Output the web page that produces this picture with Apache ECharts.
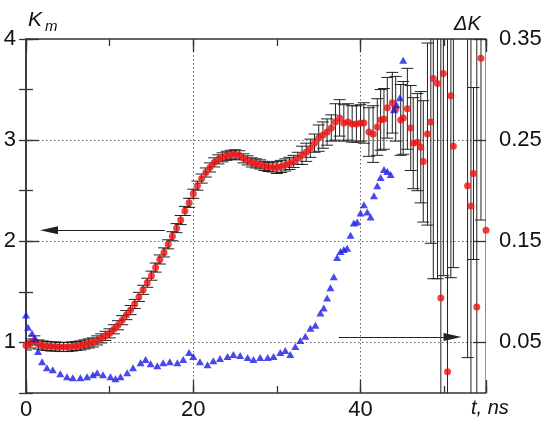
<!DOCTYPE html>
<html><head><meta charset="utf-8">
<script src="https://cdn.jsdelivr.net/npm/echarts@6/dist/echarts.min.js"></script>
<style>html,body{margin:0;padding:0;background:#fff;}#c{width:552px;height:421px;}</style>
</head><body><div id="c"></div>
<script>
// K_m (left axis) with error bars
const tK = [0,0.5,1,1.5,2,2.5,3,3.5,4,4.5,5,5.5,6,6.5,7,7.5,8,8.5,9,9.5,10,10.5,11,11.5,12,12.5,13,13.5,14,14.5,15,15.5,16,16.5,17,17.5,18,18.5,19,19.5,20,20.5,21,21.5,22,22.5,23,23.5,24,24.5,25,25.5,26,26.5,27,27.5,28,28.5,29,29.5,30,30.5,31,31.5,32,32.5,33,33.5,34,34.5,35,35.5,36,36.5,37,37.5,38,38.5,39,39.5,40,
  40.4,41.0,41.5,42.0,42.4,42.8,43.2,43.8,44.2,44.8,45.1,45.6,46.0,46.3,46.8,47.2,47.5,48.0,48.4,48.7,49.2,49.6,49.9,50.4,50.8,51.1,52.8,53.2,53.5,53.9,54.4,55.0];
const kValues = [0.97,0.99,1.02,0.98,0.97,0.965,0.96,0.96,0.955,0.955,0.955,0.96,0.965,0.97,0.98,0.99,1.0,1.02,1.04,1.065,1.09,1.13,1.17,1.22,1.27,1.32,1.38,1.45,1.52,1.59,1.66,1.74,1.82,1.89,1.97,2.05,2.13,2.21,2.30,2.38,2.47,2.55,2.62,2.68,2.73,2.78,2.81,2.83,2.845,2.855,2.86,2.85,2.82,2.80,2.78,2.77,2.76,2.745,2.735,2.73,2.73,2.74,2.755,2.77,2.79,2.82,2.85,2.88,2.92,2.97,3.02,3.05,3.08,3.12,3.18,3.22,3.17,3.18,3.16,3.16,3.17,
  3.17,3.08,3.06,3.13,3.20,3.21,3.32,3.37,3.31,3.20,3.22,3.31,3.12,2.97,2.98,2.93,2.79,3.06,3.18,3.61,3.56,1.44,3.66,0.71,3.44,2.94,2.55,2.35,2.67,1.35,3.81,2.11];
const kErr = [0.045,0.045,0.045,0.045,0.045,0.045,0.045,0.045,0.045,0.045,0.045,0.045,0.045,0.045,0.045,0.045,0.045,0.045,0.045,0.045,0.045,0.045,0.045,0.045,0.045,0.045,0.045,0.045,0.045,0.045,0.045,0.045,0.045,0.045,0.045,0.045,0.045,0.045,0.045,0.045,0.045,0.045,0.045,0.045,0.045,0.045,0.045,0.045,0.045,0.045,0.045,0.045,0.045,0.045,0.045,0.045,0.045,0.045,0.045,0.045,0.06,0.06,0.06,0.06,0.06,0.06,0.09,0.09,0.09,0.09,0.13,0.13,0.13,0.13,0.18,0.18,0.18,0.18,0.18,0.18,0.18,
  0.20,0.24,0.28,0.28,0.30,0.30,0.30,0.30,0.32,0.35,0.36,0.40,0.42,0.45,0.48,0.55,0.60,0.90,1.20,1.98,1.93,2.70,2.00,3.40,1.80,1.20,1.70,1.90,0.85,2.70,1.60,2.60];
// ΔK (right axis)
const tDK = [0,0.24,0.72,1.08,1.44,1.92,2.5,3.2,4.1,4.9,5.6,6.5,7.3,8.0,8.5,9.2,10.1,10.7,11.3,12.1,12.8,13.7,14.3,14.9,15.7,16.4,17.2,18.1,18.8,19.5,20.0,20.8,21.7,22.4,23.2,24.1,24.8,25.6,26.5,27.2,28.0,28.9,29.6,30.4,31.0,31.6,32.2,32.8,33.4,34.0,34.6,35.2,35.6,36.0,36.4,36.8,37.2,37.6,38.0,38.4,38.8,39.2,39.6,40.0,40.4,40.8,41.2,41.6,42.0,42.4,42.8,43.2,43.6,44.0,44.3,44.7,45.1];
const dkValues = [0.077,0.065,0.059,0.054,0.041,0.031,0.025,0.023,0.019,0.016,0.015,0.015,0.016,0.018,0.020,0.018,0.016,0.014,0.016,0.020,0.025,0.030,0.033,0.029,0.027,0.030,0.031,0.030,0.033,0.040,0.036,0.031,0.028,0.032,0.034,0.036,0.038,0.037,0.035,0.033,0.035,0.035,0.036,0.040,0.042,0.038,0.046,0.052,0.056,0.064,0.067,0.079,0.084,0.094,0.104,0.115,0.134,0.140,0.142,0.143,0.156,0.168,0.169,0.178,0.186,0.179,0.174,0.195,0.205,0.213,0.221,0.219,0.216,0.280,0.285,0.292,0.329];
// tick labels
const xLabelValues = [0, 20, 40];
const leftLabelValues = [1, 2, 3, 4];
const rightLabelValues = ['0.05', '0.15', '0.25', '0.35'];
const xName = 't, ns';
const leftName = ['K', 'm'];
const rightName = 'ΔK';
// annotation arrows (data coordinates)
const arrowLeft = [[16.6, 2.11], [2.75, 2.11]];
const arrowRight = [[37.4, 0.0554], [51.0, 0.0554]];

const FONT = 'Liberation Sans, Arial, sans-serif';
const AX = '#333';
const chart = echarts.init(document.getElementById('c'), null, {renderer: 'canvas'});
const gridPos = {left: 26, right: 66, top: 39, containLabel: false, outerBoundsMode: 'none'};
const tickStyle = {color: AX, width: 1.3};
const dotted = {show: true, showMinLine: false, showMaxLine: false, lineStyle: {type: [1.5, 2.5], color: '#666', width: 1}};

chart.setOption({
  animation: false,
  backgroundColor: '#fff',
  grid: [
    Object.assign({bottom: 28}, gridPos),
    Object.assign({height: 404}, gridPos)
  ],
  xAxis: [
    {gridIndex: 0, type: 'value', min: 0, max: 55, interval: 10, position: 'bottom',
     axisLine: {show: true, lineStyle: {color: AX, width: 1.5}},
     axisTick: {inside: true, length: 7, lineStyle: tickStyle},
     axisLabel: {fontSize: 22, color: '#111', fontFamily: FONT, margin: 6,
       formatter: v => xLabelValues.includes(v) ? String(v) : ''},
     splitLine: {show: false}},
    {gridIndex: 0, type: 'value', min: 0, max: 55, interval: 10, position: 'top',
     axisLine: {show: true, lineStyle: {color: AX, width: 1.5}},
     axisTick: {inside: true, length: 7, lineStyle: tickStyle},
     axisLabel: {show: false}, splitLine: {show: false}},
    {gridIndex: 0, type: 'value', min: 0, max: 55, interval: 20, position: 'bottom',
     axisLine: {show: false}, axisTick: {inside: true, length: 13, lineStyle: tickStyle},
     axisLabel: {show: false}, splitLine: dotted},
    {gridIndex: 0, type: 'value', min: 0, max: 55, interval: 20, position: 'top',
     axisLine: {show: false}, axisTick: {inside: true, length: 13, lineStyle: tickStyle},
     axisLabel: {show: false}, splitLine: {show: false}},
    {gridIndex: 1, type: 'value', min: 0, max: 55, show: false}
  ],
  yAxis: [
    {gridIndex: 0, type: 'value', min: 0.5, max: 4, interval: 0.5, position: 'left',
     axisLine: {show: true, lineStyle: {color: AX, width: 1.5}},
     axisTick: {inside: true, length: 7, lineStyle: tickStyle},
     axisLabel: {fontSize: 22, color: '#111', fontFamily: FONT, margin: 10,
       formatter: v => leftLabelValues.includes(v) ? String(v) : ''},
     splitLine: {show: false}},
    {gridIndex: 0, type: 'value', min: 0, max: 0.35, interval: 0.05, position: 'right',
     axisLine: {show: true, lineStyle: {color: AX, width: 1.5}},
     axisTick: {inside: true, length: 7, lineStyle: tickStyle},
     axisLabel: {fontSize: 22, color: '#111', fontFamily: FONT, margin: 13,
       formatter: v => { const s = (+v).toFixed(2); return rightLabelValues.includes(s) ? s : ''; }},
     splitLine: {show: false}},
    {gridIndex: 1, type: 'value', min: 0, max: 4, interval: 1, position: 'left',
     axisLine: {show: false}, axisTick: {inside: true, length: 13, lineStyle: tickStyle},
     axisLabel: {show: false}, splitLine: dotted},
    {gridIndex: 1, type: 'value', min: 0, max: 4, interval: 1, position: 'right',
     axisLine: {show: false}, axisTick: {inside: true, length: 13, lineStyle: tickStyle},
     axisLabel: {show: false}, splitLine: {show: false}}
  ],
  graphic: [
    {type: 'text', x: 28, y: 10, style: {text: leftName[0], font: 'italic 21px ' + FONT, fill: '#111', textVerticalAlign: 'top'}},
    {type: 'text', x: 45, y: 19, style: {text: leftName[1], font: 'italic 15px ' + FONT, fill: '#111', textVerticalAlign: 'top'}},
    {type: 'text', x: 454, y: 14, style: {text: rightName, font: 'italic 20px ' + FONT, fill: '#111', textVerticalAlign: 'top'}},
    {type: 'text', x: 471, y: 398, style: {text: xName, font: 'italic 20px ' + FONT, fill: '#111', textVerticalAlign: 'top'}}
  ],
  series: [
    {type: 'custom', xAxisIndex: 0, yAxisIndex: 0, clip: true, z: 2,
     encode: {x: 0, y: [1, 2]},
     data: tK.map((t, i) => [t, kValues[i] - kErr[i], kValues[i] + kErr[i]]),
     renderItem: function (params, api) {
       const t = api.value(0);
       const p0 = api.coord([t, api.value(1)]);
       const p1 = api.coord([t, api.value(2)]);
       const hw = 6;
       const st = {stroke: '#222', lineWidth: 1, fill: null};
       return {type: 'group', children: [
         {type: 'line', shape: {x1: p0[0], y1: p0[1], x2: p1[0], y2: p1[1]}, style: st},
         {type: 'line', shape: {x1: p0[0] - hw, y1: p0[1], x2: p0[0] + hw, y2: p0[1]}, style: st},
         {type: 'line', shape: {x1: p1[0] - hw, y1: p1[1], x2: p1[0] + hw, y2: p1[1]}, style: st}
       ]};
     }},
    {type: 'scatter', xAxisIndex: 0, yAxisIndex: 0, z: 3, symbol: 'circle', symbolSize: 7,
     itemStyle: {color: '#ee1111'},
     data: tK.map((t, i) => [t, kValues[i]]),
     markLine: {silent: true, symbol: ['none', 'triangle'], symbolSize: [8, 18],
       label: {show: false}, lineStyle: {color: '#222', width: 1, type: 'solid'},
       data: [[{coord: arrowLeft[0]}, {coord: arrowLeft[1]}]]}},
    {type: 'scatter', xAxisIndex: 0, yAxisIndex: 1, z: 4, symbol: 'triangle', symbolSize: [8, 7],
     itemStyle: {color: '#1a1ae8'},
     data: tDK.map((t, i) => [t, dkValues[i]]),
     markLine: {silent: true, symbol: ['none', 'triangle'], symbolSize: [8, 18],
       label: {show: false}, lineStyle: {color: '#222', width: 1, type: 'solid'},
       data: [[{coord: arrowRight[0]}, {coord: arrowRight[1]}]]}}
  ]
});
</script></body></html>
